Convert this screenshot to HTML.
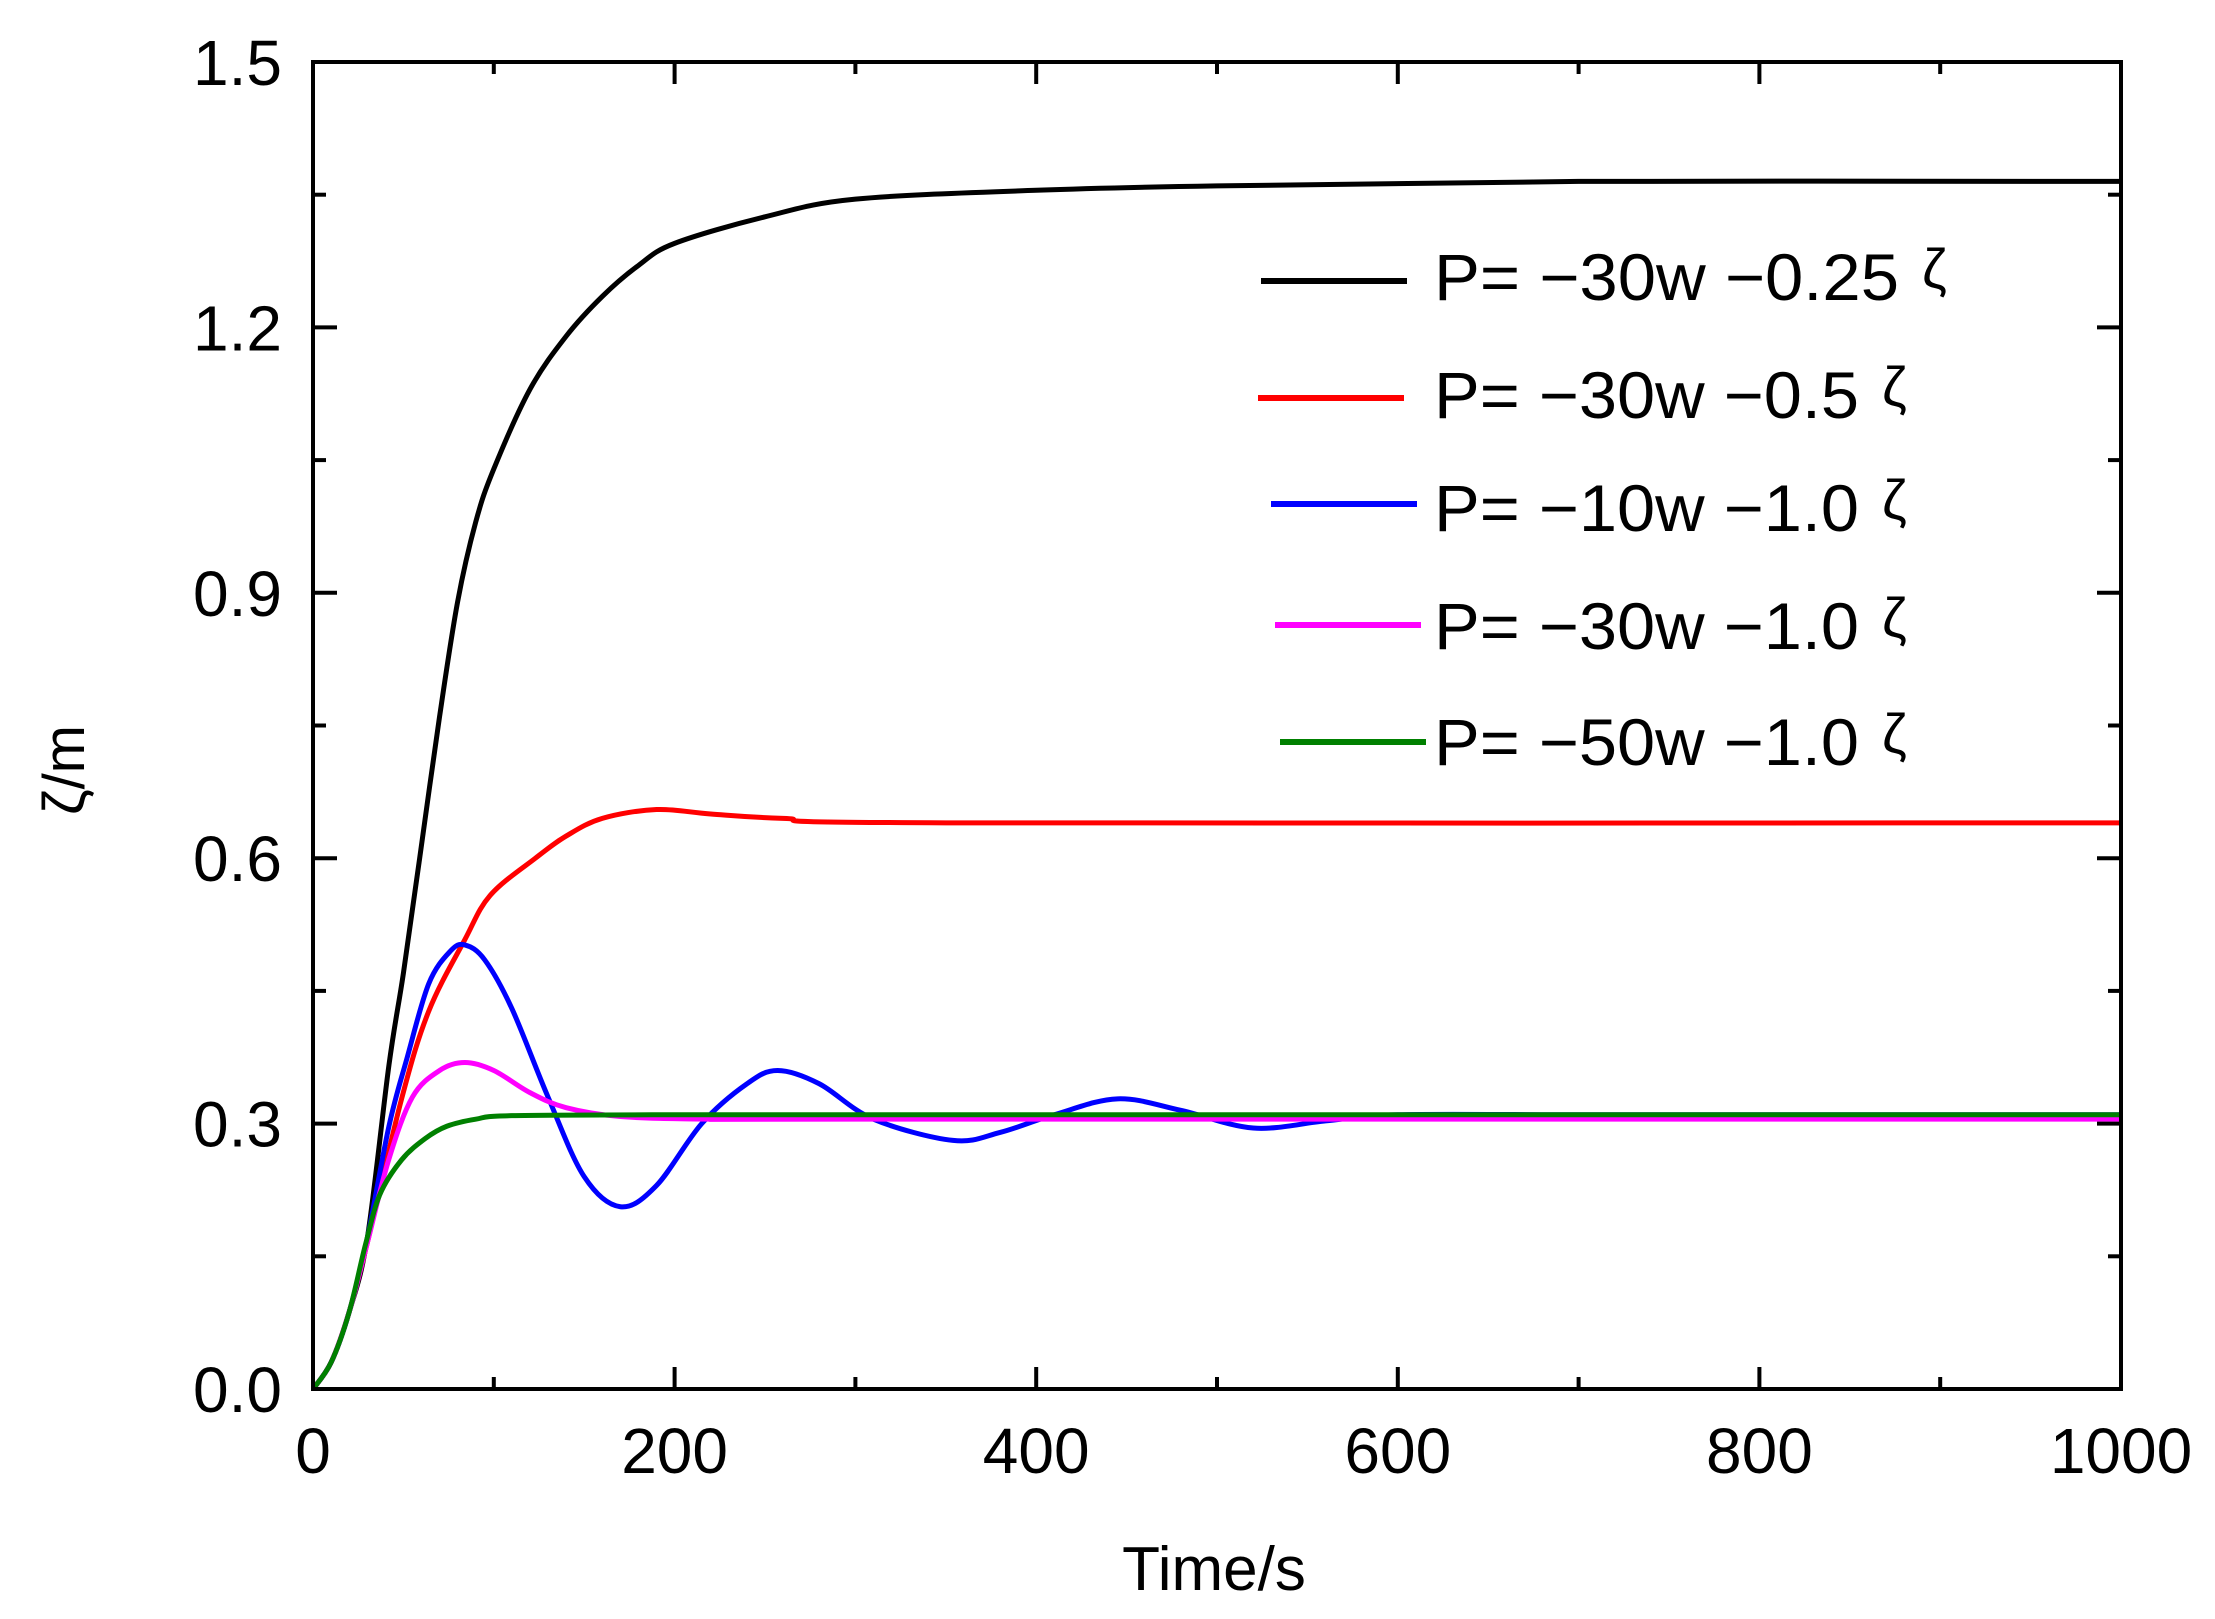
<!DOCTYPE html>
<html><head><meta charset="utf-8"><style>
html,body{margin:0;padding:0;background:#fff}
svg{display:block}
text{font-family:"Liberation Sans",sans-serif;fill:#000}
</style></head><body>
<svg id="chart" width="2215" height="1619" viewBox="0 0 2215 1619" xmlns="http://www.w3.org/2000/svg">
<g id="series"></g>
<g id="axes"></g>
<g id="legend"></g>
<text x="1214" y="1590" font-size="62" text-anchor="middle">Time/s</text>
<text x="0" y="0" font-size="58" text-anchor="middle" transform="translate(84,770) rotate(-90)">ζ/m</text>
</svg>
<script>
const xTicks=[0,200,400,600,800,1000];
const yTicks=[0.0,0.3,0.6,0.9,1.2,1.5];
const yTickLabels=["0.0","0.3","0.6","0.9","1.2","1.5"];
const seriesNames=["P= −30w −0.25","P= −30w −0.5","P= −10w −1.0","P= −30w −1.0","P= −50w −1.0"];
const blackT=[0,10,20,30,42,50,59,70,80,90,100,120,140,160,180,200,250,300,400,500,700,1000];
const blackV=[0,0.03,0.087,0.17,0.366,0.47,0.6,0.76,0.89,0.98,1.04,1.13,1.19,1.235,1.27,1.295,1.325,1.345,1.355,1.36,1.365,1.365];
const redT=[0,10,20,30,49,64,84,98,123,140,160,190,220,260,350,1000];
const redV=[0,0.03,0.087,0.165,0.328,0.427,0.508,0.558,0.6,0.625,0.645,0.655,0.65,0.645,0.64,0.64];
const blueT=[0,10,20,30,42,52,64,76,84,95,110,130,150,170,190,215,240,257,280,310,354,380,410,445,480,520,560,600,700,800,900,1000];
const blueV=[0,0.03,0.087,0.17,0.297,0.374,0.458,0.495,0.502,0.485,0.43,0.33,0.24,0.206,0.23,0.3,0.345,0.36,0.345,0.305,0.281,0.29,0.31,0.328,0.315,0.295,0.303,0.31,0.31,0.31,0.31,0.31];
const magT=[0,10,20,30,42,55,70,84,100,120,140,170,220,300,1000];
const magV=[0,0.03,0.087,0.165,0.26,0.33,0.36,0.369,0.36,0.335,0.318,0.308,0.305,0.305,0.305];
const greenT=[0,10,20,29,37,49,62,74,90,110,200,400,1000];
const greenV=[0,0.03,0.087,0.163,0.22,0.259,0.283,0.297,0.305,0.309,0.31,0.31,0.31];
const colors=["#000000","#ff0000","#0000ff","#ff00ff","#008000"];
const L=313,R=2121,T=62,B=1389;
function sx(t){return L+(t/1000)*(R-L);}
function sy(v){return B-(v/1.5)*(B-T);}
const NS="http://www.w3.org/2000/svg";
function mk(tag,attrs,parent){const e=document.createElementNS(NS,tag);for(const k in attrs)e.setAttribute(k,attrs[k]);parent.appendChild(e);return e;}
function smooth(ts,vs){
  const p=ts.map((t,i)=>[sx(t),sy(vs[i])]);
  let d="M"+p[0][0]+","+p[0][1];
  for(let i=0;i<p.length-1;i++){
    const p0=p[i-1]||p[i],p1=p[i],p2=p[i+1],p3=p[i+2]||p2;
    const c1=[p1[0]+(p2[0]-p0[0])/6,p1[1]+(p2[1]-p0[1])/6];
    const c2=[p2[0]-(p3[0]-p1[0])/6,p2[1]-(p3[1]-p1[1])/6];
    d+=" C"+c1[0]+","+c1[1]+" "+c2[0]+","+c2[1]+" "+p2[0]+","+p2[1];
  }
  return d;
}
const sg=document.getElementById('series');
const allT=[blackT,redT,blueT,magT,greenT],allV=[blackV,redV,blueV,magV,greenV];
const snames=["series-black","series-red","series-blue","series-magenta","series-green"];
for(const s of [0,1,2,3,4]){
  const path=mk('path',{d:smooth(allT[s],allV[s]),fill:'none',stroke:colors[s],'stroke-width':5,'stroke-linejoin':'round'},sg);
  
  
}
const ag=document.getElementById('axes');
const frame=mk('rect',{x:L,y:T,width:R-L,height:B-T,fill:'none',stroke:'#000','stroke-width':4},ag);


xTicks.forEach((t,i)=>{
  const x=sx(t);
  mk('line',{x1:x,y1:B,x2:x,y2:B-22,stroke:'#000','stroke-width':4},ag);
  mk('line',{x1:x,y1:T,x2:x,y2:T+22,stroke:'#000','stroke-width':4},ag);
  if(i<xTicks.length-1){const xm=sx(t+100);
    mk('line',{x1:xm,y1:B,x2:xm,y2:B-12,stroke:'#000','stroke-width':4},ag);
    mk('line',{x1:xm,y1:T,x2:xm,y2:T+12,stroke:'#000','stroke-width':4},ag);}
  const lb=mk('text',{x:x,y:1473,'font-size':64,'text-anchor':'middle'},ag);
  lb.textContent=String(t);
  
  
});
yTicks.forEach((v,i)=>{
  const y=sy(v);
  mk('line',{x1:L,y1:y,x2:L+24,y2:y,stroke:'#000','stroke-width':4},ag);
  mk('line',{x1:R,y1:y,x2:R-24,y2:y,stroke:'#000','stroke-width':4},ag);
  if(i<yTicks.length-1){const ym=sy(v+0.15);
    mk('line',{x1:L,y1:ym,x2:L+13,y2:ym,stroke:'#000','stroke-width':4},ag);
    mk('line',{x1:R,y1:ym,x2:R-13,y2:ym,stroke:'#000','stroke-width':4},ag);}
  const lb=mk('text',{x:282,y:y+23,'font-size':64,'text-anchor':'end'},ag);
  lb.textContent=yTickLabels[i];
  
  
});
const lg=document.getElementById('legend');
const legY=[300,418,531,649,765];
const legLineY=[281,398,504,625,742];
const legX1=[1261,1258,1271,1275,1280];
const legW=[465,425,425,425,425];
const zetaX=[1922,1882,1882,1882,1882];
seriesNames.forEach((n,i)=>{
  const ln=mk('line',{x1:legX1[i],y1:legLineY[i],x2:legX1[i]+146,y2:legLineY[i],stroke:colors[i],'stroke-width':6},lg);
  
  
  const tx=mk('text',{x:1434,y:legY[i],'font-size':66,textLength:legW[i],lengthAdjust:'spacingAndGlyphs'},lg);
  tx.textContent=n;
  
  
  const z=mk('text',{x:zetaX[i],y:legY[i]-12,'font-size':56},lg);
  z.textContent='ζ';
  
  
});
</script>
</body></html>
